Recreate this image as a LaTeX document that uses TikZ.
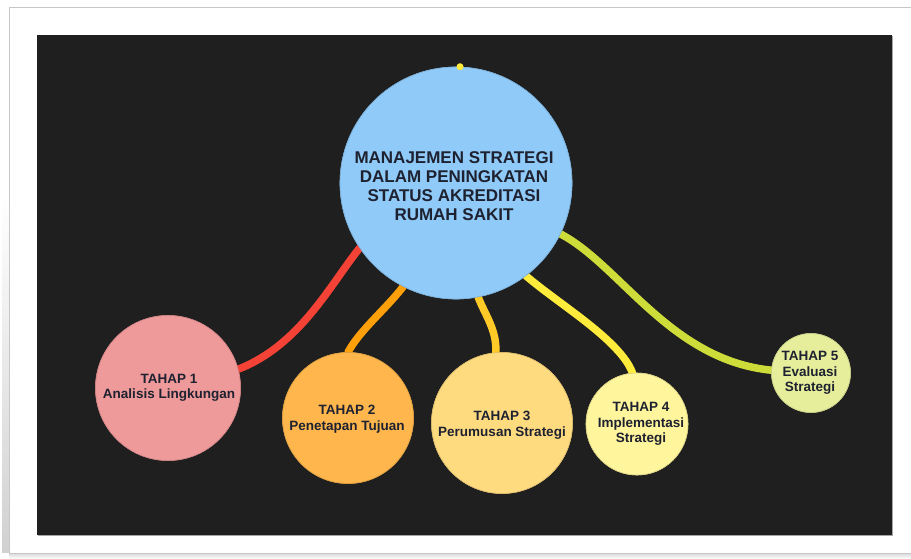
\documentclass[tikz,border=0pt]{standalone}
\usepackage{fontspec}
\setmainfont{Liberation Sans}
\usetikzlibrary{fadings}
\definecolor{bg}{HTML}{1F1F1F}
\definecolor{txt}{HTML}{1E2230}
\definecolor{cblue}{HTML}{90CAF9}
\definecolor{cpink}{HTML}{EF9A9A}
\definecolor{corange}{HTML}{FFB74D}
\definecolor{cgold}{HTML}{FFDB80}
\definecolor{cyellow}{HTML}{FFF59D}
\definecolor{clime}{HTML}{E6EE9C}
\definecolor{lred}{HTML}{F44336}
\definecolor{lorange}{HTML}{FF9F0A}
\definecolor{lgold}{HTML}{FFCA28}
\definecolor{lyellow}{HTML}{FFEB3B}
\definecolor{llime}{HTML}{CDDC39}
\begin{document}
\begin{tikzpicture}[x=1pt,y=-1pt,
  bubble/.style={circle,inner sep=0pt,draw=#1!85!black,line width=0.6pt,fill=#1},
  label/.style={text=txt,font=\bfseries\fontsize{13.5}{15.5}\selectfont,align=center,inner sep=0pt},
  biglabel/.style={text=txt,font=\bfseries\fontsize{17}{19}\selectfont,align=center,inner sep=0pt},
  link/.style={line width=7.5pt,draw=#1,line cap=round}]
\useasboundingbox (0,0) rectangle (911,559);
\fill[white] (0,0) rectangle (911,559);
% frame shadows
\fill[black!18,path fading=north] (2,200) rectangle (9,553);
\shade[top color=black!15,bottom color=white] (9,553) rectangle (911,559);
\draw[black!22,line width=1pt,fill=white] (9.5,7.5) rectangle (912,553);
% dark panel
\fill[black!35] (38,36) rectangle (893,536);
\fill[bg] (37,35) rectangle (892,535);
% nodes
\node[bubble=cblue,minimum size=232pt] (c) at (456,183) {};
\node[bubble=cpink,minimum size=145pt] (t1) at (168,388) {};
\node[bubble=corange,minimum size=131pt] (t2) at (348,418) {};
\node[bubble=cgold,minimum size=141pt] (t3) at (502,423) {};
\node[bubble=cyellow,minimum size=102pt] (t4) at (637,424) {};
\node[bubble=clime,minimum size=79pt] (t5) at (811,373) {};
% connector anchor points
\coordinate (c1) at (c.-146);
\coordinate (c2) at (c.-117);
\coordinate (c3) at (c.-79);
\coordinate (c4) at (c.-53);
\coordinate (c5) at (c.-26);
\coordinate (e1) at (t1.15);
\coordinate (e2) at (t2.90);
\coordinate (e3) at (t3.95);
\coordinate (e4) at (t4.95);
\coordinate (e5) at (t5.176);
% connectors
\draw[link=lred] (c1) .. controls (330,285) and (300,345) .. (e1);
\draw[link=lorange] (c2) .. controls (385,310) and (360,330) .. (e2);
\draw[link=lgold] (c3) .. controls (485,315) and (497,330) .. (e3);
\draw[link=lyellow] (c4) .. controls (560,305) and (620,340) .. (e4);
\draw[link=llime] (c5) .. controls (620,265) and (670,360) .. (e5);
% redraw bubbles over connector ends
\node[bubble=cblue,minimum size=232pt] at (456,183) {};
\node[bubble=cpink,minimum size=145pt] at (168,388) {};
\node[bubble=corange,minimum size=131pt] at (348,418) {};
\node[bubble=cgold,minimum size=141pt] at (502,423) {};
\node[bubble=cyellow,minimum size=102pt] at (637,424) {};
\node[bubble=clime,minimum size=79pt] at (811,373) {};
% top dot
\node[circle,fill=lyellow,inner sep=0pt,minimum size=7pt] (dot) at ([xshift=4pt]c.north) {};
% texts
\node[biglabel] (tc) at (454,186) {MANAJEMEN STRATEGI\\DALAM PENINGKATAN\\STATUS AKREDITASI\\RUMAH SAKIT};
\node[label] (l1) at (169,388) {TAHAP 1\\Analisis Lingkungan};
\node[label] (l2) at (347,419) {TAHAP 2\\Penetapan Tujuan};
\node[label] (l3) at (502,425) {TAHAP 3\\Perumusan Strategi};
\node[label] (l4) at (641,424) {TAHAP 4\\Implementasi\\Strategi};
\node[label] (l5) at (810,373) {TAHAP 5\\Evaluasi\\Strategi};
\end{tikzpicture}
\end{document}
